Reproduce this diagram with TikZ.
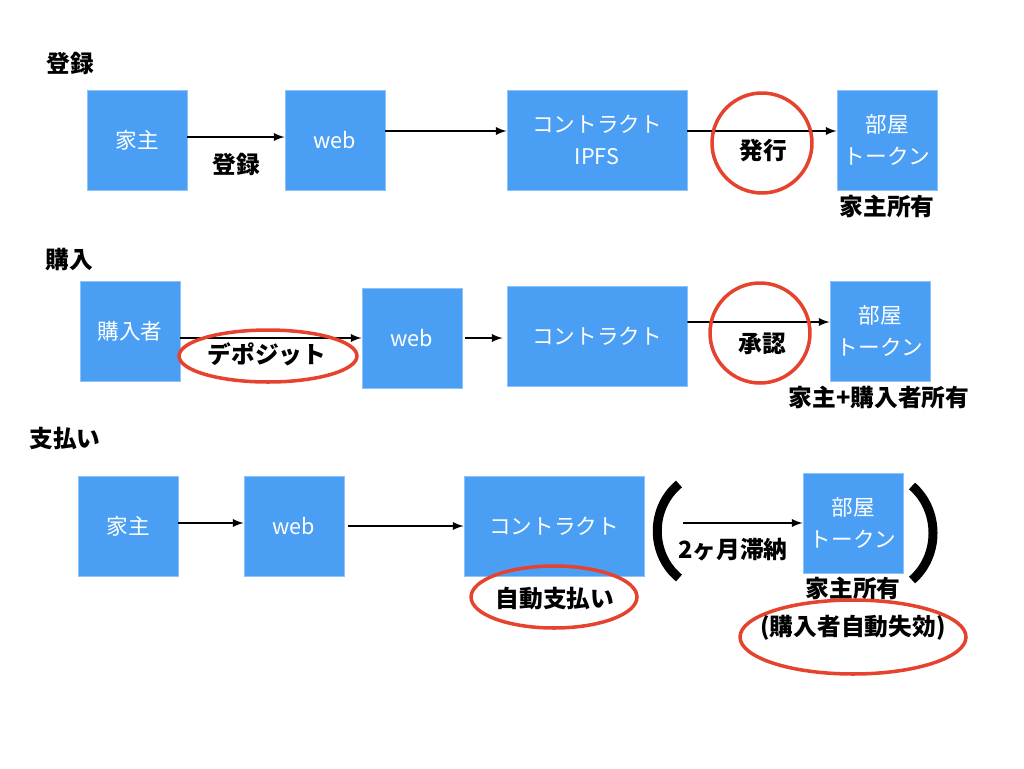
\documentclass[tikz,border=0pt]{standalone}
\usepackage{fontspec}
\setmainfont{Noto Sans CJK JP}
\definecolor{boxblue}{HTML}{4A9FF5}
\definecolor{boxedge}{HTML}{8CC4FA}
\definecolor{ringred}{HTML}{E5432D}
\begin{document}
\begin{tikzpicture}[x = 0.02cm, y = -0.02cm,
	box/.style = {fill = boxblue, draw = boxedge, line width = 0.5pt, minimum width = 2cm, minimum height = 2cm, inner sep = 0pt, text = white, align = center, font = \fontsize{12.3}{18.5}\selectfont},
	widebox/.style = {box, minimum width = 3.6cm},
	lbl/.style = {inner sep = 0pt, align = center, font = \fontsize{13.5}{19}\selectfont\bfseries},
	arr/.style = {->, >=latex, line width = 1.1pt},
	redring/.style = {draw = ringred, line width = 2pt}]
	\useasboundingbox (0,0) rectangle (1024,768);
	% titles
	\node [lbl] (t1) at (70,63) {登録};
	\node [lbl] (t2) at (69,260) {購入};
	\node [lbl] (t3) at (65,438) {支払い};
	% row 1
	\node [box] (owner1) at (137,140) {家主};
	\node [box] (web1) at (335,140) {web};
	\node [widebox] (con1) at (597,140) {コントラクト\\IPFS};
	\node [box] (tok1) at (887,140) {部屋\\トークン};
	\draw [arr] ([yshift = 0.06cm]owner1.east) -- ([yshift = 0.06cm]web1.west);
	\draw [arr] ([yshift = 0.18cm]web1.east) -- ([yshift = 0.18cm]con1.west);
	\draw [arr] ([yshift = 0.18cm]con1.east) -- ([yshift = 0.18cm]tok1.west);
	\node [lbl] (reg) at (236,164) {登録};
	\draw [redring] (762,143) circle (1cm);
	\node [lbl] (issue) at (763,151) {発行};
	\node [lbl] (own1) at (887,206) {家主所有};
	% row 2
	\node [box] (buyer) at (130,331) {購入者};
	\node [box] (web2) at (412,338) {web};
	\node [widebox] (con2) at (597,336) {コントラクト};
	\node [box] (tok2) at (880,331) {部屋\\トークン};
	\draw [arr] (buyer.east |- web2) -- (web2.west);
	\draw [arr] ([xshift = 0.06cm]web2.east) -- ([xshift = -0.08cm]con2.west |- web2);
	\draw [arr] ([yshift = 0.28cm]con2.east) -- ([yshift = 0.18cm]tok2.west);
	\draw [redring] (268,356) ellipse (1.78cm and 0.52cm);
	\node [lbl] (dep) at (267,354) {デポジット};
	\draw [redring] (760,333) circle (1cm);
	\node [lbl] (ok) at (762,344) {承認};
	\node [lbl] (own2) at (879,397) {家主+購入者所有};
	% row 3
	\node [box] (owner3) at (128,526) {家主};
	\node [box] (web3) at (294,526) {web};
	\node [widebox] (con3) at (554,526) {コントラクト};
	\node [box] (tok3) at (853,523) {部屋\\トークン};
	\draw [arr] ([yshift = 0.06cm]owner3.east) -- ([yshift = 0.06cm]web3.west);
	\draw [arr] ([xshift = 0.08cm]web3.east) -- (con3.west);
	\coordinate (lapse) at (683,523);
	\draw [arr] (lapse) -- (tok3.west);
	\draw [line width = 0.18cm] (679,484) .. controls (650,508) and (650,554) .. (679,578);
	\draw [line width = 0.18cm] (912,486) .. controls (940,510) and (940,556) .. (912,580);
	\node [lbl] (late) at (733,550) {2ヶ月滞納};
	\draw [redring] (554,597) ellipse (1.66cm and 0.62cm);
	\node [lbl] (pay) at (555,599) {自動支払い};
	\node [lbl] (own3) at (853,588) {家主所有};
	\draw [redring] (853,637) ellipse (2.26cm and 0.74cm);
	\node [lbl] (void) at (853,628) {(購入者自動失効)};
\end{tikzpicture}
\end{document}
